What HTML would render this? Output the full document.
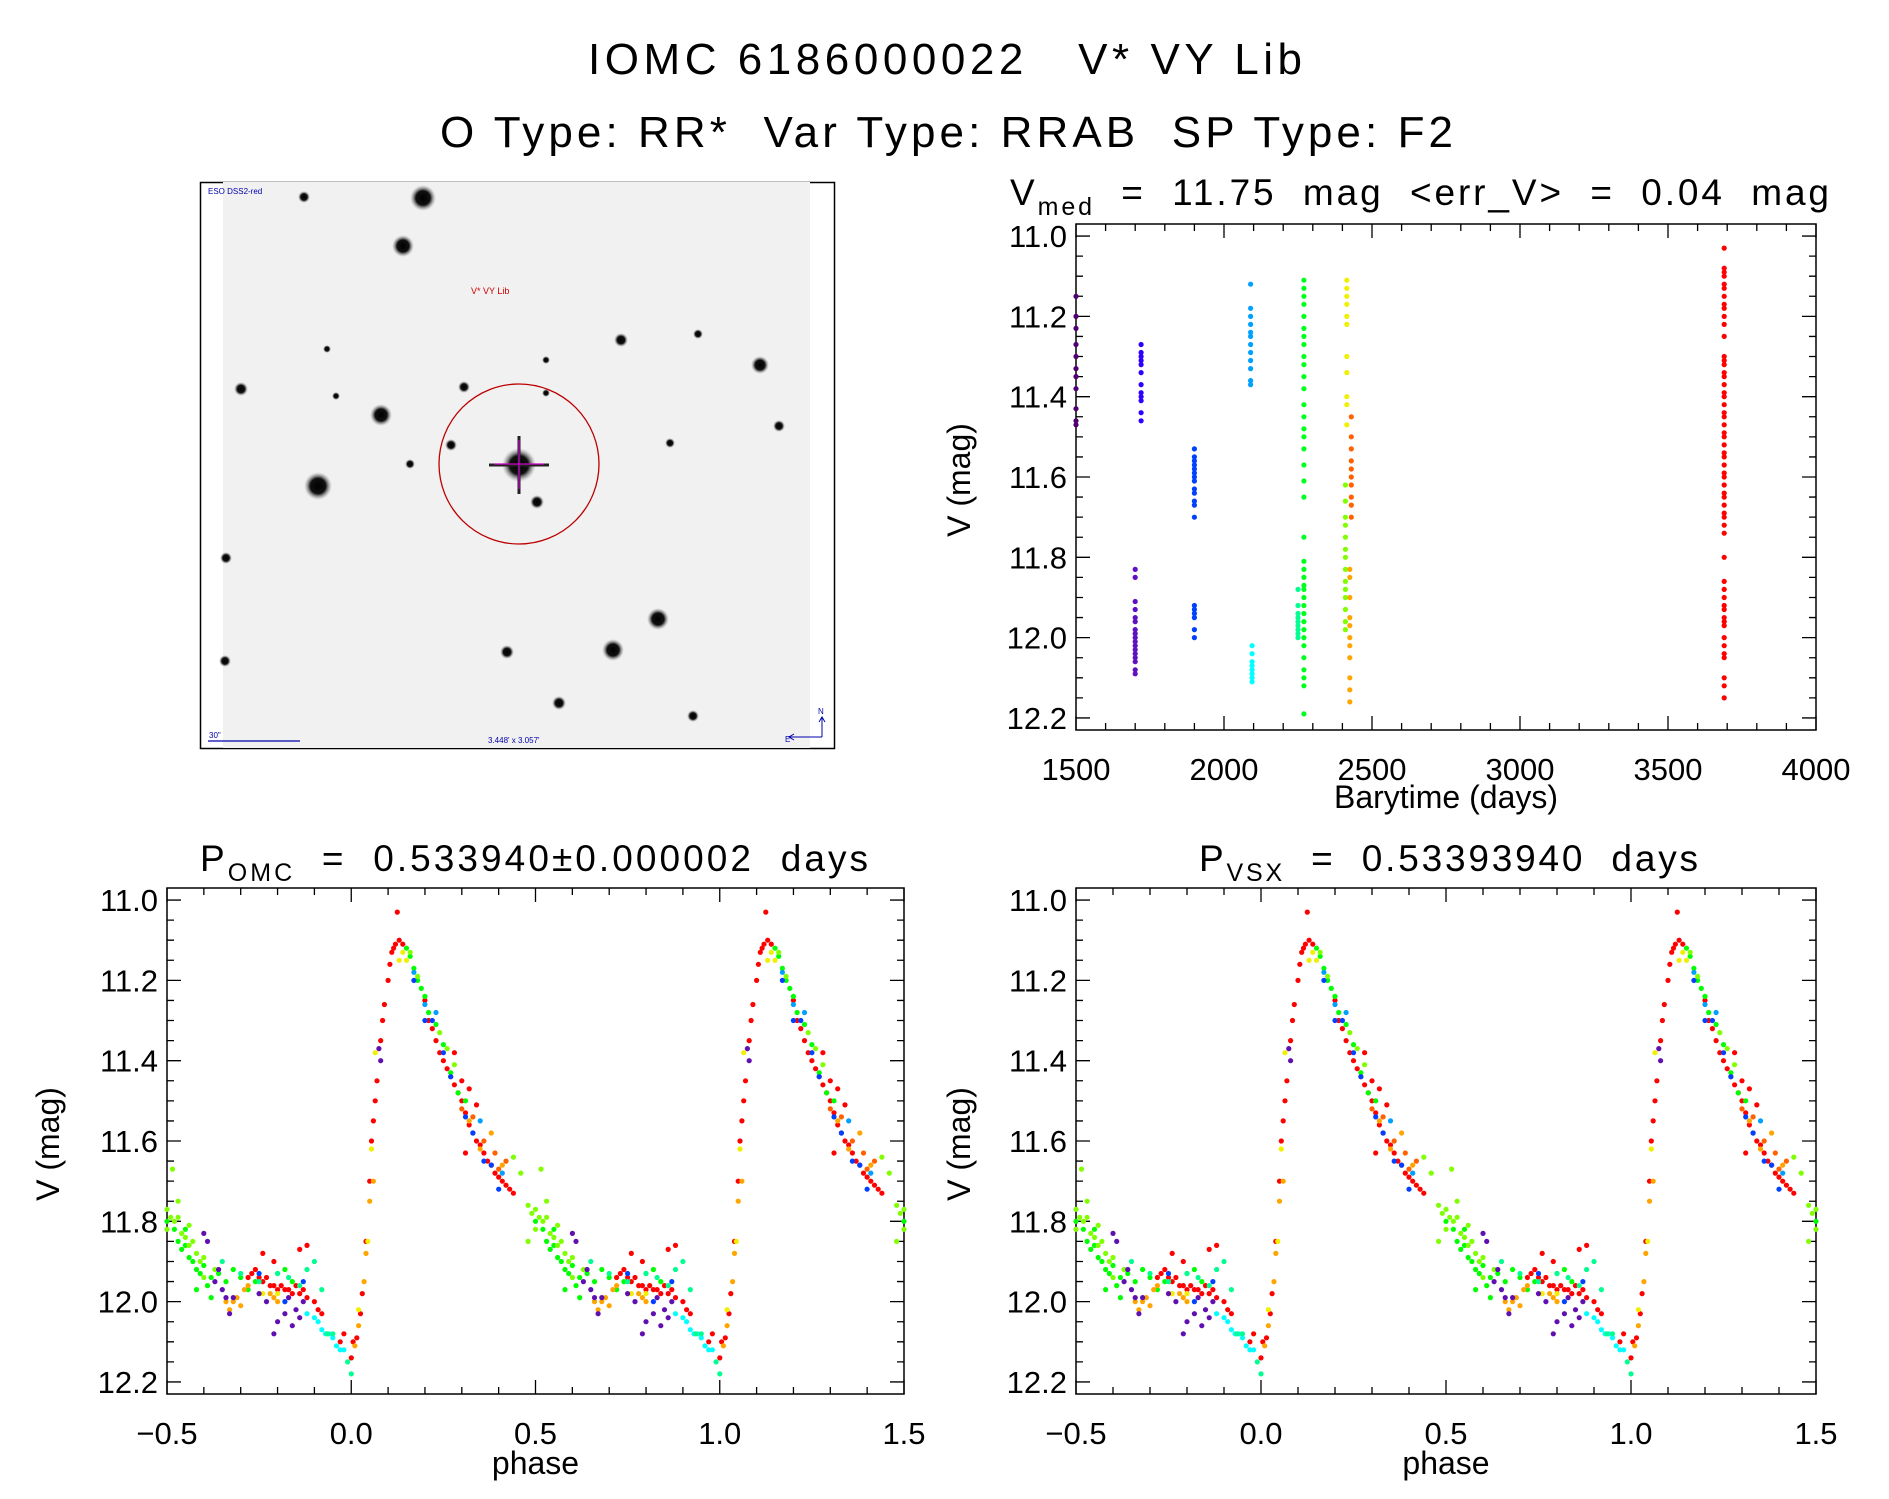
<!DOCTYPE html>
<html><head><meta charset="utf-8"><style>
html,body{margin:0;padding:0;background:#fff}
svg text{font-family:"Liberation Sans",sans-serif;fill:#000;white-space:pre}
</style></head><body>
<svg id="fig" width="1889" height="1494" viewBox="0 0 1889 1494" xmlns="http://www.w3.org/2000/svg" xml:space="preserve">
<defs>
<radialGradient id="star"><stop offset="0" stop-color="#000"/><stop offset="0.55" stop-color="#111"/><stop offset="1" stop-color="#999" stop-opacity="0"/></radialGradient>
</defs>
<text x="588" y="74" font-size="44" textLength="714" lengthAdjust="spacing">IOMC 6186000022   V* VY Lib</text>
<text x="440" y="147" font-size="44" textLength="1013" lengthAdjust="spacing">O Type: RR*  Var Type: RRAB  SP Type: F2</text>

<g>
<rect x="200.5" y="182.5" width="634" height="566" fill="#fff" stroke="#000" stroke-width="1.5"/>
<rect x="223" y="182" width="587" height="566" fill="#f1f1f1"/>
<g id="stars"></g>
<circle cx="519" cy="464" r="80" fill="none" stroke="#b00" stroke-width="1.3"/>
<line x1="519" y1="440" x2="519" y2="489" stroke="#c0c" stroke-width="1.2"/>
<line x1="494" y1="464" x2="544" y2="464" stroke="#c0c" stroke-width="1.2"/>
<text x="471" y="294" font-size="9" style="fill:#c00">V* VY Lib</text>
<text x="208" y="194" font-size="8" style="fill:#00a">ESO DSS2-red</text>
<line x1="208" y1="741" x2="300" y2="741" stroke="#00a" stroke-width="1.2"/>
<text x="209" y="738" font-size="8" style="fill:#00a">30"</text>
<text x="488" y="743" font-size="8" style="fill:#00a">3.448' x 3.057'</text>
<path d="M822 737 V718 M819 722 L822 717 L825 722 M822 737 H790 M794 734 L789 737 L794 740" stroke="#00a" fill="none" stroke-width="1"/>
<text x="818" y="714" font-size="8" style="fill:#00a">N</text>
<text x="785" y="742" font-size="8" style="fill:#00a">E</text>
</g>

<g id="plots"></g>
</svg>
<script>
const NS="http://www.w3.org/2000/svg";
const svg=document.getElementById('fig');
function mk(tag,attrs,parent){const e=document.createElementNS(NS,tag);for(const k in attrs)e.setAttribute(k,attrs[k]);(parent||svg).appendChild(e);return e;}

const starX=[423,403,304,381,318,241,760,621,698,658,613,507,559,693,779,670,464,451,546,546,410,336,327,226,225,519,537];
const starY=[198,246,197,415,486,389,365,340,334,619,650,652,703,716,426,443,387,445,360,393,464,396,349,558,661,465,502];
const starR=[13,11,6,11,14,7,9,7,5,11,11,7,7,6,6,5,6,6,4,4,5,4,4,6,6,17,7];
const sg=document.getElementById('stars');
for(let i=0;i<starX.length;i++){
  const c=mk('circle',{cx:starX[i],cy:starY[i],r:starR[i],fill:'url(#star)'},sg);
  
  
}
mk('path',{d:'M489 465 H549 M519 436 V494',stroke:'#222','stroke-width':3},sg);

const plots=document.getElementById('plots');
const YMIN=10.97,YMAX=12.23;

function axes(name,L,R,T,B,xmin,xmax,xMaj,xMin,xLabels,xDec){
  const g=mk('g',{},plots);
  
  
  const sx=v=>L+(v-xmin)/(xmax-xmin)*(R-L);
  const sy=v=>T+(v-YMIN)/(YMAX-YMIN)*(B-T);
  mk('rect',{x:L,y:T,width:R-L,height:B-T,fill:'none',stroke:'#000','stroke-width':1.5},g);
  let p='';
  const nx=Math.round((xmax-xmin)/xMin);
  for(let i=0;i<=nx;i++){const v=xmin+i*xMin;const maj=Math.abs(Math.round((v-xmin)/xMaj)*xMaj-(v-xmin))<1e-6;const len=maj?14:7;const x=sx(v);
    p+=`M${x} ${B}V${B-len}M${x} ${T}V${T+len}`;}
  for(let i=0;i<=24;i++){const v=11+i*0.05;if(v>YMAX)break;const maj=i%4==0;const len=maj?14:7;const y=sy(v);
    p+=`M${L} ${y}H${L+len}M${R} ${y}H${R-len}`;}
  mk('path',{d:p,stroke:'#000','stroke-width':1.3,fill:'none'},g);
  for(let i=0;i<=6;i++){const v=11+i*0.2;const t=mk('text',{x:L-9,y:sy(v)+11,'font-size':31,'text-anchor':'end'},g);t.textContent=v.toFixed(1);
    }
  xLabels.forEach(v=>{const t=mk('text',{x:sx(v),y:B+50,'font-size':31,'text-anchor':'middle'},g);t.textContent=(v<0?'\u2212':'')+Math.abs(v).toFixed(xDec);
    });
  const yl=mk('text',{x:0,y:0,'font-size':32,'text-anchor':'middle',transform:`translate(${L-(name==='phase-plot-omc'?108:106)},${(T+B)/2+3}) rotate(-90)`},g);
  yl.textContent='V (mag)';
  
  return {g,sx,sy,L,R,T,B};
}
function dot(g,x,y,col){const c=mk('circle',{cx:x.toFixed(1),cy:y.toFixed(1),r:2.6,fill:col},g);
  
  }

const tTimes=[1500,1720,1700,1900,2090,2095,2250,2270,2415,2410,2430,2425,3690];
const tColors=['#500070','#3000ff','#6010c0','#0040ff','#00a0ff','#00ffff','#00ff90','#00ff20','#f0f000','#80ff00','#ff6000','#ffa500','#ff0000'];
const tMags=[
[11.15,11.2,11.23,11.27,11.3,11.33,11.35,11.38,11.43,11.46,11.47],
[11.27,11.29,11.3,11.31,11.32,11.34,11.37,11.39,11.4,11.41,11.44,11.46],
[11.83,11.85,11.91,11.93,11.95,11.96,11.98,11.99,12.0,12.01,12.02,12.03,12.04,12.05,12.06,12.08,12.09],
[11.53,11.55,11.56,11.57,11.58,11.59,11.6,11.61,11.63,11.64,11.66,11.67,11.7,11.92,11.93,11.94,11.95,11.98,12.0],
[11.12,11.18,11.2,11.22,11.24,11.25,11.27,11.29,11.31,11.33,11.36,11.37],
[12.02,12.04,12.06,12.07,12.08,12.09,12.1,12.11],
[11.88,11.92,11.94,11.95,11.96,11.97,11.98,11.99,12.0],
[11.11,11.13,11.15,11.17,11.2,11.23,11.25,11.27,11.3,11.32,11.35,11.38,11.42,11.45,11.48,11.5,11.53,11.57,11.61,11.65,11.75,11.81,11.83,11.85,11.87,11.88,11.9,11.92,11.94,11.96,11.98,12.0,12.02,12.05,12.08,12.1,12.12,12.19],
[11.11,11.13,11.15,11.17,11.2,11.22,11.3,11.34,11.4,11.42,11.47],
[11.62,11.66,11.7,11.72,11.75,11.78,11.8,11.83,11.86,11.88,11.9,11.93,11.96,11.98],
[11.45,11.5,11.53,11.56,11.58,11.6,11.62,11.65,11.67,11.7],
[11.83,11.85,11.9,11.95,11.97,12.0,12.02,12.05,12.1,12.13,12.16],
[11.03,11.08,11.09,11.1,11.12,11.13,11.15,11.17,11.18,11.2,11.22,11.25,11.3,11.31,11.32,11.34,11.35,11.37,11.39,11.4,11.42,11.44,11.45,11.47,11.49,11.5,11.52,11.54,11.55,11.57,11.59,11.6,11.62,11.64,11.65,11.67,11.69,11.7,11.72,11.74,11.8,11.86,11.88,11.9,11.92,11.93,11.95,11.96,11.97,12.0,12.02,12.04,12.05,12.1,12.12,12.15]
];
const timeTicks=[1500,2000,2500,3000,3500,4000];

const A=axes('time-series-plot',1076,1816,224,730,1500,4000,500,100,timeTicks,0);
tTimes.forEach((t,i)=>tMags[i].forEach(m=>dot(A.g,A.sx(t),A.sy(m),tColors[i])));
{const t=mk('text',{x:1010,y:205,'font-size':37,textLength:819,lengthAdjust:'spacing'},A.g);
 t.innerHTML='V<tspan font-size="25" dy="10">med</tspan><tspan dy="-10">  =  11.75  mag  &lt;err_V&gt;  =  0.04  mag</tspan>';
 }
{const t=mk('text',{x:1446,y:808,'font-size':32,'text-anchor':'middle'},A.g);t.textContent='Barytime (days)';
 }

const pColors=['#ff0000','#00ff00','#80ff00','#ffa500','#ff6000','#f0f000','#6010b0','#0040ff','#00a0ff','#00ffff','#00ff90'];
const pPhase=[
[0.0,0.005,0.015,0.025,0.03,0.04,0.05,0.055,0.06,0.065,0.07,0.08,0.085,0.09,0.1,0.105,0.11,0.115,0.12,0.125,0.13,0.14,0.2,0.21,0.22,0.23,0.24,0.25,0.26,0.27,0.28,0.29,0.3,0.31,0.32,0.33,0.34,0.35,0.36,0.37,0.38,0.39,0.4,0.41,0.42,0.43,0.44,0.3,0.34,0.31,0.28,0.32,0.72,0.73,0.74,0.75,0.76,0.77,0.78,0.79,0.8,0.81,0.82,0.83,0.84,0.85,0.86,0.87,0.88,0.76,0.79,0.86,0.88,0.9,0.91,0.92,0.97,0.98],
[0.15,0.16,0.17,0.18,0.19,0.2,0.21,0.23,0.25,0.27,0.29,0.31,0.5,0.52,0.53,0.54,0.55,0.56,0.57,0.58,0.59,0.6,0.61,0.62,0.64,0.66,0.68,0.7,0.72,0.74,0.8,0.82,0.84,0.55,0.58,0.62],
[0.48,0.49,0.5,0.51,0.52,0.53,0.54,0.55,0.56,0.57,0.58,0.59,0.6,0.46,0.5,0.53,0.56,0.6,0.63,0.515,0.44,0.16,0.18,0.24,0.26,0.28,0.48],
[0.66,0.67,0.68,0.69,0.7,0.71,0.72,0.78,0.79,0.8,0.06,0.05,0.04,0.035,0.02,0.01,0.32,0.35,0.38,0.41],
[0.3,0.33,0.36,0.39,0.4,0.42],
[0.13,0.14,0.15,0.055,0.045,0.02,0.065,0.76,0.8],
[0.63,0.64,0.65,0.66,0.67,0.68,0.6,0.61,0.75,0.77,0.79,0.8,0.82,0.83,0.84,0.85,0.86,0.87,0.075,0.08],
[0.17,0.2,0.22,0.25,0.27,0.31,0.33,0.36,0.38,0.4,0.75,0.82,0.87],
[0.17,0.2,0.23,0.35,0.41],
[0.9,0.91,0.92,0.93,0.94,0.95,0.96,0.97,0.98,0.88],
[0.8,0.83,0.86,0.88,0.9,0.92,0.935,0.95,0.75,0.7,0.65,0.0,0.99]
];
const pMag=[
[12.14,12.1,12.09,12.03,11.98,11.85,11.7,11.6,11.55,11.5,11.45,11.35,11.3,11.26,11.2,11.16,11.13,11.12,11.11,11.03,11.1,11.11,11.25,11.3,11.32,11.35,11.38,11.4,11.42,11.44,11.46,11.48,11.5,11.53,11.56,11.58,11.6,11.61,11.63,11.65,11.66,11.68,11.69,11.7,11.71,11.72,11.73,11.45,11.51,11.63,11.38,11.47,11.94,11.93,11.92,11.94,11.95,11.94,11.96,11.96,11.97,11.96,11.97,11.97,11.98,11.96,11.98,11.97,11.99,11.88,11.9,11.87,11.86,12.0,12.02,12.03,12.1,12.08],
[11.12,11.14,11.17,11.2,11.22,11.24,11.28,11.31,11.36,11.43,11.48,11.5,11.8,11.82,11.85,11.87,11.86,11.89,11.9,11.92,11.93,11.91,11.96,11.94,11.93,11.95,11.92,11.94,11.97,11.95,11.93,11.92,11.95,11.82,11.97,11.99],
[11.76,11.78,11.77,11.79,11.8,11.79,11.83,11.84,11.86,11.85,11.88,11.9,11.89,11.68,11.82,11.75,11.81,11.94,11.92,11.67,11.64,11.13,11.19,11.33,11.37,11.41,11.85],
[12.0,12.02,12.0,11.99,12.01,11.97,11.96,11.98,11.99,12.0,11.7,11.75,11.88,11.95,12.06,12.11,11.55,11.62,11.58,11.66],
[11.52,11.54,11.6,11.63,11.67,11.65],
[11.15,11.13,11.15,11.62,11.85,12.02,11.38,11.98,11.98],
[11.95,11.92,11.97,11.99,12.03,11.99,11.83,11.85,11.98,12.0,12.08,12.05,12.03,11.99,12.06,12.02,12.04,12.0,11.37,11.4],
[11.2,11.3,11.3,11.38,11.44,11.54,11.58,11.65,11.66,11.72,11.93,12.0,11.95],
[11.18,11.26,11.28,11.55,11.68],
[12.04,12.05,12.07,12.08,12.08,12.09,12.11,12.12,12.12,12.03],
[11.93,11.94,11.96,11.92,11.9,11.97,12.08,12.08,11.95,11.93,11.9,12.18,12.15]
];
const phaseTicks=[-0.5,0.0,0.5,1.0,1.5];

function phasePlot(name,L,R,titleMain,titleSub,titleRest,tx,tlen){
  const P=axes(name,L,R,888,1394,-0.5,1.5,0.5,0.1,phaseTicks,1);
  pPhase.forEach((arr,i)=>arr.forEach((ph,j)=>{[-1,0,1].forEach(k=>{const v=ph+k;if(v>=-0.5&&v<=1.5)dot(P.g,P.sx(v),P.sy(pMag[i][j]),pColors[i]);});}));
  const t=mk('text',{x:tx,y:871,'font-size':37,textLength:tlen,lengthAdjust:'spacing'},P.g);
  t.innerHTML=titleMain+'<tspan font-size="25" dy="10">'+titleSub+'</tspan><tspan dy="-10">'+titleRest+'</tspan>';
  
  
  const x=mk('text',{x:(L+R)/2,y:1474,'font-size':32,'text-anchor':'middle'},P.g);x.textContent='phase';
  
  
}
phasePlot('phase-plot-omc',167,904,'P','OMC','  =  0.533940\u00b10.000002  days',200,668);
phasePlot('phase-plot-vsx',1076,1816,'P','VSX','  =  0.53393940  days',1199,499);
</script>
</body></html>
